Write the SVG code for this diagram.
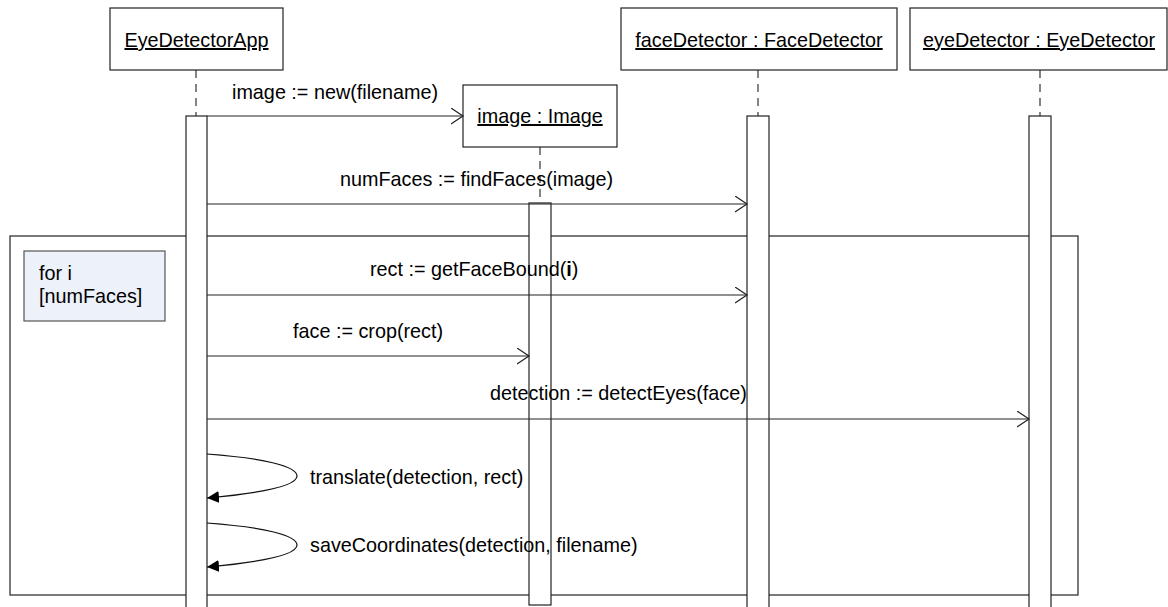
<svg xmlns="http://www.w3.org/2000/svg" width="1168" height="607" viewBox="0 0 1168 607">
<style>
text{font-family:"Liberation Sans",Arial,sans-serif;font-size:19.8px;fill:#000}
.obj{text-anchor:middle;text-decoration:underline}
.box{fill:#fff;stroke:#222;stroke-width:1.2}
.life{stroke:#333;stroke-width:1.2;stroke-dasharray:8 6;fill:none}
.bar{fill:#fff;stroke:#222;stroke-width:1.2}
.msg{stroke:#222;stroke-width:1.2;fill:none;marker-end:url(#open)}
.self{stroke:#111;stroke-width:1.2;fill:none;marker-end:url(#filled)}
</style>
<defs>
<marker id="open" markerUnits="userSpaceOnUse" markerWidth="14" markerHeight="18" refX="12" refY="8" orient="auto">
<path d="M0,0 L12,8 L0,16" fill="none" stroke="#222" stroke-width="1.2"/>
</marker>
<marker id="filled" markerUnits="userSpaceOnUse" markerWidth="14" markerHeight="14" refX="12" refY="6" orient="auto">
<path d="M0,0 L12,6 L0,12 Z" fill="#000"/>
</marker>
</defs>
<rect width="1168" height="607" fill="#fff"/>
<g id="loop-frame">
<rect x="10" y="236" width="1068" height="359" fill="none" stroke="#222" stroke-width="1.2"/>
<rect x="24" y="251" width="141" height="70" fill="#EDF1F9" stroke="#555" stroke-width="1.2"/>
<text x="39" y="280">for i</text>
<text x="39" y="303">[numFaces]</text>
</g>
<g id="lifelines">
<line class="life" x1="196" y1="70" x2="196" y2="116"/>
<line class="life" x1="758" y1="70" x2="758" y2="116"/>
<line class="life" x1="1040" y1="70" x2="1040" y2="116"/>
<line class="life" x1="540" y1="147" x2="540" y2="203"/>
<rect class="bar" x="186" y="116" width="21" height="500"/>
<rect class="bar" x="747" y="116" width="22" height="500"/>
<rect class="bar" x="1029" y="116" width="22" height="500"/>
<rect class="bar" x="529" y="203" width="22" height="402"/>
</g>
<g id="eyeDetectorApp">
<rect class="box" x="110" y="8" width="173" height="62"/>
<text class="obj" x="196.5" y="47">EyeDetectorApp</text>
</g>
<g id="faceDetector">
<rect class="box" x="621" y="8" width="276" height="62"/>
<text class="obj" x="759" y="47">faceDetector : FaceDetector</text>
</g>
<g id="eyeDetector">
<rect class="box" x="910" y="8" width="257" height="62"/>
<text class="obj" x="1039" y="47">eyeDetector : EyeDetector</text>
</g>
<g id="image">
<rect class="box" x="463" y="85" width="154" height="62"/>
<text class="obj" x="540" y="123">image : Image</text>
</g>
<g id="connectors">
<line class="msg" x1="207" y1="116" x2="463" y2="116"/>
<line class="msg" x1="207" y1="204" x2="747" y2="204"/>
<line class="msg" x1="207" y1="295" x2="747" y2="295"/>
<line class="msg" x1="207" y1="356" x2="529" y2="356"/>
<line class="msg" x1="207" y1="419" x2="1029" y2="419"/>
<path class="self" d="M207,454 C262,458 297,466 297,476 C297,486 262,493 207,498"/>
<path class="self" d="M207,523 C262,527 297,535 297,545 C297,555 262,562 207,567"/>
<text x="232" y="99">image := new(filename)</text>
<text x="340" y="186">numFaces := findFaces(image)</text>
<text x="370" y="276">rect := getFaceBound(<tspan font-weight="bold">i</tspan>)</text>
<text x="293" y="338">face := crop(rect)</text>
<text x="490" y="400">detection := detectEyes(face)</text>
<text x="310" y="484">translate(detection, rect)</text>
<text x="310" y="552">saveCoordinates(detection, filename)</text>
</g>
</svg>
